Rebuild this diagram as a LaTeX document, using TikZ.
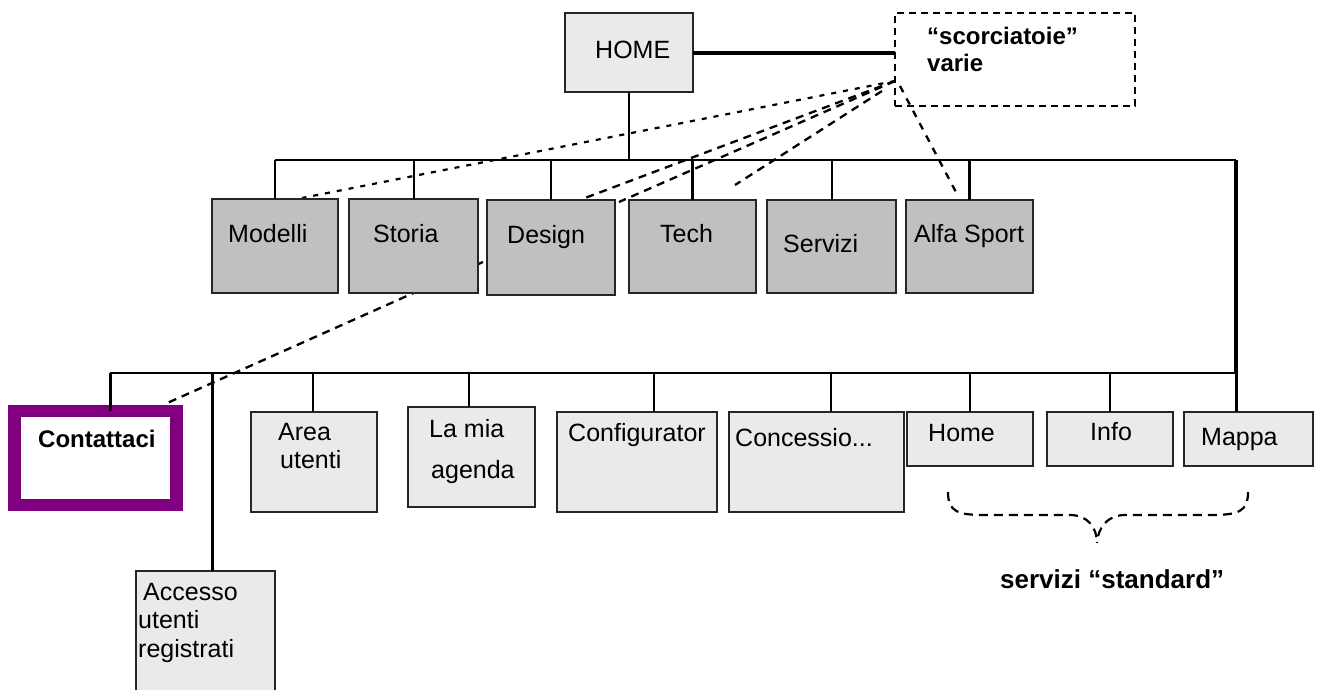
\documentclass[tikz,border=0pt]{standalone}
\usepackage{fontspec}
\setmainfont{Liberation Sans}
\definecolor{lvone}{HTML}{C0C0C0}
\definecolor{lvtwo}{HTML}{EAEAEA}
\definecolor{purp}{HTML}{800080}
\begin{document}
\begin{tikzpicture}[x=1pt,y=-1pt,
  box/.style={draw=black!85, line width=1.6pt, inner sep=0pt, outer sep=0pt, anchor=north west},
  boxone/.style={box, fill=lvone},
  boxtwo/.style={box, fill=lvtwo},
  lbl/.style={anchor=base west, inner sep=0pt, font=\fontsize{25}{28}\selectfont},
  blbl/.style={anchor=base west, inner sep=0pt, font=\bfseries\fontsize{24}{27}\selectfont},
  wire/.style={line width=2pt},
  thickwire/.style={line width=3pt},
  shortcut/.style={line width=2.3pt, dash pattern=on 8pt off 6pt},
  fineshortcut/.style={line width=2.2pt, dash pattern=on 5pt off 7pt}]
\path[clip] (0,0) rectangle (1323,689);
\fill[white] (0,0) rectangle (1323,689);

% dashed shortcut links (drawn first so the boxes cover them)
\coordinate (sc) at (895,81);
\coordinate (scB) at (900,86);
\coordinate (scC) at (882,91);
\coordinate (sModelli) at (302,198);
\coordinate (sDesign) at (585,198);
\coordinate (sGap) at (619,202);
\coordinate (sFree) at (735,185);
\coordinate (sAlfa) at (957,194);
\coordinate (sFrom) at (483,262);
\coordinate (sContatti) at (165,404);
\draw[fineshortcut] (sc) -- (sModelli);
\draw[shortcut] (sc) -- (sDesign);
\draw[shortcut] (sc) -- (sGap);
\draw[shortcut] (scC) -- (sFree);
\draw[shortcut, dash pattern=on 7pt off 7pt] (scB) -- (sAlfa);
\draw[shortcut] (sFrom) -- (sContatti);

% top level
\node[boxtwo, minimum width=128pt, minimum height=79pt] (home) at (565,13) {};
\node[box, draw=black, line width=2.5pt, dash pattern=on 7pt off 5pt,
      minimum width=240pt, minimum height=93pt] (scorc) at (895,13) {};
\node[lbl] (homeT) at (595,58) {HOME};
\node[blbl] (scorcT1) at (927,44) {“scorciatoie”};
\node[blbl] (scorcT2) at (927,71) {varie};

% first level
\node[boxone, minimum width=126pt, minimum height=94pt] (modelli) at (212,199) {};
\node[boxone, minimum width=129pt, minimum height=94pt] (storia) at (349,199) {};
\node[boxone, minimum width=128pt, minimum height=95pt] (design) at (487,200) {};
\node[boxone, minimum width=127pt, minimum height=93pt] (tech) at (629,200) {};
\node[boxone, minimum width=129pt, minimum height=93pt] (servizi) at (767,200) {};
\node[boxone, minimum width=127pt, minimum height=93pt] (alfa) at (906,200) {};
\node[lbl] (modelliT) at (228,242) {Modelli};
\node[lbl] (storiaT) at (373,242) {Storia};
\node[lbl] (designT) at (507,243) {Design};
\node[lbl] (techT) at (660,242) {Tech};
\node[lbl] (serviziT) at (783,252) {Servizi};
\node[lbl] (alfaT) at (914,242) {Alfa Sport};

% second level
\node[box, draw=purp, fill=white, line width=12.5pt,
      minimum width=162pt, minimum height=94pt] (contatti) at (14.5,411) {};
\node[boxtwo, minimum width=126pt, minimum height=100pt] (area) at (251,412) {};
\node[boxtwo, minimum width=127pt, minimum height=100pt] (agenda) at (408,407) {};
\node[boxtwo, minimum width=160pt, minimum height=100pt] (config) at (557,412) {};
\node[boxtwo, minimum width=175pt, minimum height=100pt] (conc) at (729,412) {};
\node[boxtwo, minimum width=126pt, minimum height=54pt] (homeb) at (907,412) {};
\node[boxtwo, minimum width=126pt, minimum height=54pt] (info) at (1047,412) {};
\node[boxtwo, minimum width=129pt, minimum height=54pt] (mappa) at (1184,412) {};
\node[boxtwo, minimum width=139pt, minimum height=140pt] (accesso) at (136,571) {};
\node[blbl] (contattiT) at (38,447) {Contattaci};
\node[lbl] (areaT1) at (278,440) {Area};
\node[lbl] (areaT2) at (280,468) {utenti};
\node[lbl] (agendaT1) at (429,437) {La mia};
\node[lbl] (agendaT2) at (431,478) {agenda};
\node[lbl] (configT) at (568,441) {Configurator};
\node[lbl] (concT) at (735,446) {Concessio...};
\node[lbl] (homebT) at (928,441) {Home};
\node[lbl] (infoT) at (1090,440) {Info};
\node[lbl] (mappaT) at (1201,445) {Mappa};
\node[lbl] (accessoT1) at (143,600) {Accesso};
\node[lbl] (accessoT2) at (138,628) {utenti};
\node[lbl] (accessoT3) at (138,657) {registrati};

% tree connectors
\coordinate (busA) at (629,160);
\coordinate (busR) at (1236,160);
\coordinate (busB) at (1236,373);
\draw[line width=4pt] (home.east) -- (home.east -| scorc.west);
\draw[wire] (home.south) -- (busA);
\draw[wire] (modelli.north |- busA) -- (busR);
\draw[wire] (modelli.north) -- (modelli.north |- busA);
\draw[wire] (storia.north) -- (storia.north |- busA);
\draw[wire] (design.north) -- (design.north |- busA);
\draw[thickwire] (tech.north) -- (tech.north |- busA);
\draw[wire] (servizi.north) -- (servizi.north |- busA);
\draw[thickwire] (alfa.north) -- (alfa.north |- busA);
\draw[line width=3.5pt] (busR) -- (busB);

\coordinate (tCont) at (110,373);
\coordinate (tAcc) at (212,373);
\coordinate (tArea) at (313,373);
\coordinate (tAgenda) at (469,373);
\coordinate (tConfig) at (654,373);
\coordinate (tConc) at (831,373);
\coordinate (tHome) at (970,373);
\coordinate (tInfo) at (1110,373);
\draw[wire] (tCont) -- (busB);
\draw[thickwire] (tCont) -- (tCont |- contatti.north);
\draw[thickwire] (tAcc) -- (tAcc |- accesso.north);
\draw[wire] (tArea) -- (tArea |- area.north);
\draw[wire] (tAgenda) -- (tAgenda |- agenda.north);
\draw[wire] (tConfig) -- (tConfig |- config.north);
\draw[wire] (tConc) -- (tConc |- conc.north);
\draw[wire] (tHome) -- (tHome |- homeb.north);
\draw[wire] (tInfo) -- (tInfo |- info.north);
\draw[thickwire] (busB) -- (busB |- mappa.north);

% brace grouping the standard services
\coordinate (brL) at (948,492);
\coordinate (brR) at (1248,492);
\coordinate (brTip) at (1097,543);
\draw[line width=2.2pt, dash pattern=on 9pt off 6pt]
  (brL) .. controls (948,512) and (958,515) .. (985,515) -- (1070,515)
  .. controls (1088,515) and (1097,528) .. (brTip);
\draw[line width=2.2pt, dash pattern=on 9pt off 6pt]
  (brR) .. controls (1248,512) and (1238,515) .. (1210,515) -- (1125,515)
  .. controls (1107,515) and (1098,528) .. (brTip);
\node[blbl, font=\bfseries\fontsize{26}{29}\selectfont] (stdT) at (1000,588) {servizi “standard”};
\end{tikzpicture}
\end{document}
